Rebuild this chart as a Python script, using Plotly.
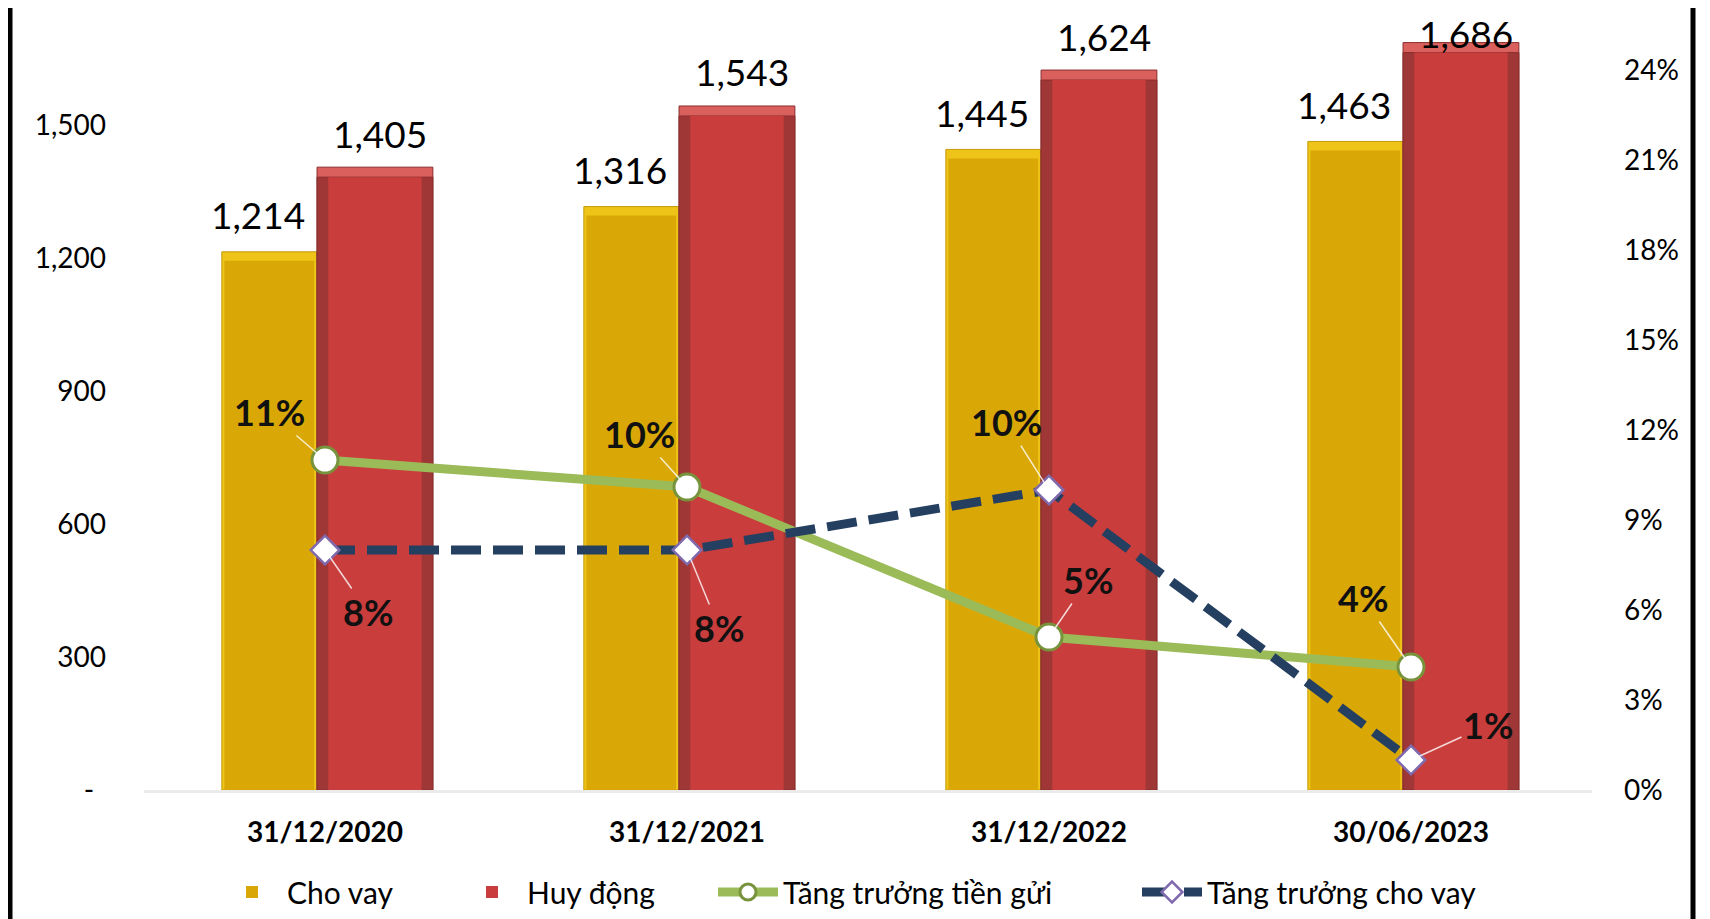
import plotly.graph_objects as go

# ---------------- data ----------------
categories = ["31/12/2020", "31/12/2021", "31/12/2022", "30/06/2023"]
cho_vay = [1214, 1316, 1445, 1463]
huy_dong = [1405, 1543, 1624, 1686]
tang_truong_tien_gui = [0.110, 0.101, 0.051, 0.041]
tang_truong_cho_vay = [0.080, 0.080, 0.100, 0.010]
left_tickvals = [0, 300, 600, 900, 1200, 1500]
left_ticktext = ["-\u00a0\u2006", "300", "600", "900", "1,200", "1,500"]
right_tickvals = [0, 0.03, 0.06, 0.09, 0.12, 0.15, 0.18, 0.21, 0.24]

# ---------------- geometry / style ----------------
W, H = 1710, 919
ML, MR, MT, MB = 136, 126, 0, 137
PLOT_W = W - ML - MR
PLOT_H = H - MT - MB
Y_MAX = 1764
Y2_MAX = 0.2607
FONT = "Lato"
px_to_y = Y_MAX / PLOT_H

YEL = "#DAA806"
YEL_TOP = "#EFC418"
RED_TOP = "#DA605D"
RED_SIDE = "#A03737"
RED = "#C93D3D"
GREEN = "#9BBB59"
NAVY = "#243F60"

fig = go.Figure()

# yellow bars: light top bevel + face
fig.add_trace(go.Bar(
    x=categories, y=cho_vay, showlegend=False,
    offset=-0.285, width=0.262,
    marker=dict(color=YEL_TOP, line=dict(color="#C39A0A", width=1)),
    hoverinfo="skip",
))
fig.add_trace(go.Bar(
    x=categories, y=[v - 9 * px_to_y for v in cho_vay], name="Cho vay", legend="legend",
    offset=-0.285 + 0.007, width=0.262 - 0.014,
    marker=dict(color=YEL, line=dict(width=0)), hovertext=[f"{v:,}" for v in cho_vay],
    hoverinfo="x+text",
))
# red bars: light top bevel + dark sides + face
fig.add_trace(go.Bar(
    x=categories, y=huy_dong, showlegend=False,
    offset=-0.022, width=0.320,
    marker=dict(color=RED_TOP, line=dict(color="#8A2E2E", width=1)),
    hoverinfo="skip",
))
fig.add_trace(go.Bar(
    x=categories, y=[v - 10 * px_to_y for v in huy_dong], showlegend=False,
    offset=-0.022, width=0.320,
    marker=dict(color=RED_SIDE, line=dict(color="#8A2E2E", width=1)),
    hoverinfo="skip",
))
fig.add_trace(go.Bar(
    x=categories, y=[v - 10 * px_to_y for v in huy_dong], name="Huy động", legend="legend2",
    offset=-0.022 + 0.031, width=0.320 - 0.062,
    marker=dict(color=RED, line=dict(width=0)), hovertext=[f"{v:,}" for v in huy_dong],
    hoverinfo="x+text",
))

# growth lines
fig.add_trace(go.Scatter(
    x=categories, y=tang_truong_tien_gui, yaxis="y2", name="Tăng trưởng tiền gửi",
    legend="legend3", mode="lines+markers",
    line=dict(color=GREEN, width=9),
    marker=dict(symbol="circle", size=26, color="white", line=dict(color="#77933C", width=3)),
))
fig.add_trace(go.Scatter(
    x=categories, y=tang_truong_cho_vay, yaxis="y2", name="Tăng trưởng cho vay",
    legend="legend4", mode="lines+markers",
    line=dict(color=NAVY, width=9, dash="30px,12px"),
    marker=dict(symbol="diamond", size=22, color="white", line=dict(color="#7F6AAE", width=2.5)),
))

annotations = []
# bar value labels (kept inside the figure at the top edge)
def label_shift(v, want):
    top_px = v / Y_MAX * PLOT_H
    return min(want, (PLOT_H - 25) - top_px)

for i, c in enumerate(categories):
    annotations.append(dict(x=c, y=cho_vay[i], xref="x", yref="y", text=f"{cho_vay[i]:,}",
                            showarrow=False, xshift=-67, yshift=label_shift(cho_vay[i], 37),
                            font=dict(family=FONT, size=37, color="#000")))
    annotations.append(dict(x=c, y=huy_dong[i], xref="x", yref="y", text=f"{huy_dong[i]:,}",
                            showarrow=False, xshift=55, yshift=label_shift(huy_dong[i], 34),
                            font=dict(family=FONT, size=37, color="#000")))

# percent labels with leader lines
green_off = [(-56, -48), (-48, -53), (39, -57), (-48, -69)]
navy_off = [(43, 62), (32, 78), (-43, -68), (77, -35)]
for series, offs in ((tang_truong_tien_gui, green_off), (tang_truong_cho_vay, navy_off)):
    for i, c in enumerate(categories):
        annotations.append(dict(
            x=c, y=series[i], xref="x", yref="y2", text=f"<b>{series[i]:.0%}</b>",
            showarrow=True, arrowhead=0, arrowwidth=1.5, arrowcolor="rgba(255,255,255,0.8)",
            ax=offs[i][0], ay=offs[i][1],
            font=dict(family=FONT, size=36, color="#111")))

# frame lines (left and right black borders)
shapes = []
for xf in (2, 1685):
    xpaper = (xf - ML) / PLOT_W
    shapes.append(dict(type="line", xref="paper", yref="paper",
                       x0=xpaper, x1=xpaper, y0=-MB / PLOT_H, y1=1,
                       line=dict(color="black", width=5)))

legend_y = (PLOT_H - 884) / PLOT_H
legend_x_px = [209, 449, 705, 1129]
legend_common = dict(orientation="h", xanchor="left", y=legend_y, yanchor="middle",
                     font=dict(family=FONT, size=30, color="#000"), itemwidth=60,
                     bgcolor="rgba(0,0,0,0)")

fig.update_layout(
    width=W, height=H,
    margin=dict(l=ML, r=MR, t=MT, b=MB),
    paper_bgcolor="white", plot_bgcolor="white",
    barmode="overlay",
    font=dict(family=FONT, size=28, color="#000"),
    xaxis=dict(type="category", range=[-0.5, 3.5], showgrid=False, zeroline=False,
               showline=True, linecolor="#EBEBEB", linewidth=3,
               tickfont=dict(family=FONT, size=28, color="#000", weight="bold"),
               ticklabelstandoff=15),
    yaxis=dict(range=[0, Y_MAX], tickvals=left_tickvals, ticktext=left_ticktext,
               showgrid=False, zeroline=False, showline=False,
               tickfont=dict(family=FONT, size=28, color="#000"),
               ticklabelstandoff=37),
    yaxis2=dict(range=[0, Y2_MAX], overlaying="y", side="right", tickvals=right_tickvals,
                tickformat=".0%", showgrid=False, zeroline=False, showline=False,
                tickfont=dict(family=FONT, size=28, color="#000"),
                ticklabelstandoff=31),
    legend=dict(x=(legend_x_px[0] - ML) / PLOT_W, **legend_common),
    legend2=dict(x=(legend_x_px[1] - ML) / PLOT_W, **legend_common),
    legend3=dict(x=(legend_x_px[2] - ML) / PLOT_W, **legend_common),
    legend4=dict(x=(legend_x_px[3] - ML) / PLOT_W, **legend_common),
    annotations=annotations,
    shapes=shapes,
    showlegend=True,
)

fig.write_html("out.html")
